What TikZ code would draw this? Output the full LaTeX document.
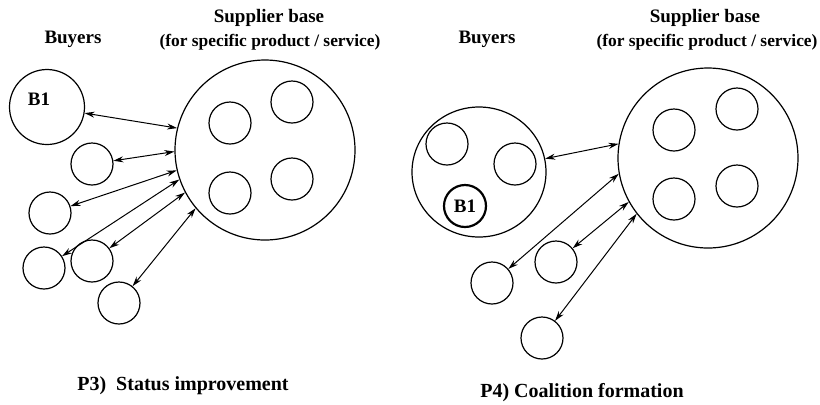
\documentclass[tikz,border=0pt]{standalone}
\usepackage{fontspec}
\setmainfont{Liberation Serif}[BoldFont={Liberation Serif Bold}]
\usetikzlibrary{arrows.meta, shapes.geometric}

\begin{document}
\begin{tikzpicture}[x=0.5pt, y=-0.5pt,
    firm/.style={draw, circle, line width=0.6pt, minimum size=21pt, inner sep=0pt},
    base/.style={draw, circle, line width=0.6pt, minimum size=90pt, inner sep=0pt},
    lbl/.style={font=\bfseries\fontsize{9.5}{11}\selectfont},
    sub/.style={font=\bfseries\fontsize{8.7}{10}\selectfont},
    link/.style={{Stealth[length=5pt,width=3pt]}-{Stealth[length=5pt,width=3pt]}, line width=0.5pt}]
    \useasboundingbox (0,0) rectangle (820,404);

    % P3 标题
    \node[lbl] (buyA) at (73, 39) {Buyers};
    \node[lbl] (supA) at (269, 18) {Supplier base};
    \node[sub] (subA) at (270, 42) {(for specific product / service)};

    % P3 供应商
    \node[base] (sup) at (265, 150) {};
    \node[firm] (sa) at (230, 123) {};
    \node[firm] (sb) at (292, 102) {};
    \node[firm] (sc) at (230, 193) {};
    \node[firm] (sd) at (292, 179) {};

    % P3 买方
    \node[firm, minimum size=37.5pt] (b1) at (47, 107) {};
    \node[lbl] (b1txt) at ([xshift=-4pt, yshift=4pt]b1.center) {B1};
    \node[firm] (b2) at (92, 164) {};
    \node[firm] (b3) at (50, 213) {};
    \node[firm] (b4) at (44, 268) {};
    \node[firm] (b5) at (92, 261) {};
    \node[firm] (b6) at (119, 303) {};

    % P3 连线
    \draw[link] (b1) -- (sup.166);
    \draw[link] (b2) -- (sup.181);
    \draw[link] (b3) -- (sup.193);
    \draw[link] (b4) -- (sup.199);
    \draw[link] (b5) -- (sup.208);
    \draw[link] (b6) -- (sup.220);

    \node[lbl, font=\bfseries\fontsize{10}{12}\selectfont] (capA) at (183, 386) {P3)\ \ Status improvement};

    % P4 标题
    \node[lbl] (buyB) at (487, 39) {Buyers};
    \node[lbl] (supB) at (705, 18) {Supplier base};
    \node[sub] (subB) at (707, 42) {(for specific product / service)};

    % P4 供应商
    \node[base] (csup) at (708, 158) {};
    \node[firm] (ca) at (674, 130) {};
    \node[firm] (cb) at (737, 109) {};
    \node[firm] (cc) at (674, 199) {};
    \node[firm] (cd) at (737, 186) {};

    % P4 联盟
    \node[draw, ellipse, line width=0.6pt, minimum width=67pt, minimum height=65pt, inner sep=0pt] (coal) at (479, 172) {};
    \node[firm] (m1) at (447, 144) {};
    \node[firm] (m2) at (515, 164) {};
    \node[firm, line width=1.1pt, lbl] (cb1) at (465, 206) {B1};

    % P4 买方
    \node[firm] (c1) at (492, 283) {};
    \node[firm] (c2) at (556, 262) {};
    \node[firm] (c3) at (542, 338) {};

    % P4 连线
    \draw[link] (coal) -- (csup.171);
    \draw[link] (c1) -- (csup.190);
    \draw[link] (c2) -- (csup.209);
    \draw[link] (c3) -- (csup.218);

    \node[lbl, font=\bfseries\fontsize{10}{12}\selectfont] (capB) at (582, 393) {P4) Coalition formation};
\end{tikzpicture}
\end{document}
